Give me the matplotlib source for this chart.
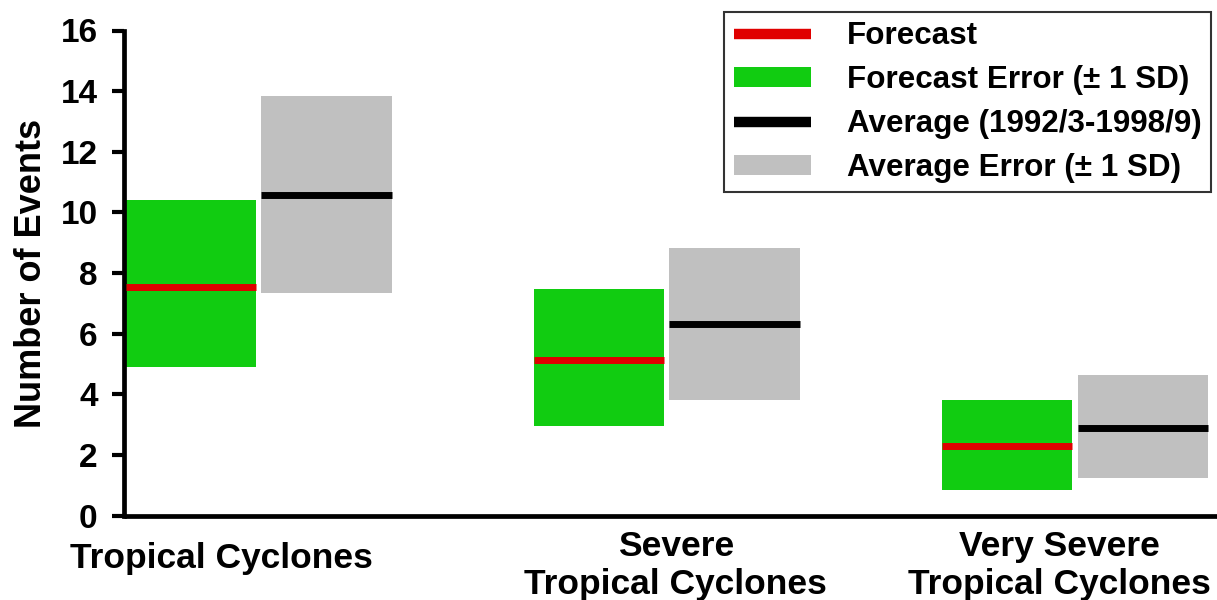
import matplotlib
matplotlib.use("Agg")
import matplotlib.pyplot as plt
from matplotlib.lines import Line2D
from matplotlib.patches import Patch
import numpy as np

categories = ["Tropical Cyclones", "Severe\nTropical Cyclones", "Very Severe\nTropical Cyclones"]
forecast = [7.55, 5.13, 2.28]
forecast_lo = [4.90, 2.95, 0.84]
forecast_hi = [10.40, 7.46, 3.81]
average = [10.58, 6.33, 2.90]
average_lo = [7.33, 3.81, 1.25]
average_hi = [13.84, 8.84, 4.63]
yticks = [0, 2, 4, 6, 8, 10, 12, 14, 16]

# layout: horizontal offset of each category label from its group centre (x units)
label_shift = np.array([-0.091, 0.022, -0.037])
# layout: vertical nudge of each category label (axes fraction)
label_nudge = [0.015, 0.0, 0.0]

plt.rcParams['font.family'] = ['Liberation Sans', 'DejaVu Sans']
plt.rcParams['font.weight'] = 'bold'

GREEN = '#11cc11'
GRAY = '#c0c0c0'
RED = '#e00000'

fig = plt.figure(figsize=(12.17, 6.0), dpi=100)
ax = fig.add_axes([124/1217, 84.5/600, 1 - 124/1217, 485/600])

x = np.arange(len(categories))
w = 0.319
off = 0.166

lo_f = np.array(forecast_lo); hi_f = np.array(forecast_hi)
lo_a = np.array(average_lo); hi_a = np.array(average_hi)
ax.bar(x - off, hi_f - lo_f, bottom=lo_f, width=w, color=GREEN, edgecolor='none', zorder=2)
ax.bar(x + off, hi_a - lo_a, bottom=lo_a, width=w, color=GRAY, edgecolor='none', zorder=2)
ax.hlines(forecast, x - off - w/2, x - off + w/2, colors=RED, linewidth=5, zorder=3)
ax.hlines(average, x + off - w/2, x + off + w/2, colors='black', linewidth=5, zorder=3)

ax.set_xlim(-0.33, 2.348)
ax.set_ylim(0, 16)
ax.set_yticks(yticks)
ax.set_yticklabels([str(v) for v in yticks], fontsize=24, fontweight='bold')
ax.set_xticks(x + label_shift)
ax.set_xticklabels(categories, fontsize=25.5, fontweight='bold', linespacing=1.22)
for lab, dy in zip(ax.get_xticklabels(), label_nudge):
    lab.set_verticalalignment('center')
    lab.set_multialignment('center')
    lab.set_y(dy)
ax.tick_params(axis='x', length=0, pad=36)
ax.tick_params(axis='y', length=9, width=3, direction='out', pad=10)

for s in ['top', 'right']:
    ax.spines[s].set_visible(False)
for s in ['left', 'bottom']:
    ax.spines[s].set_linewidth(3.4)
ax.spines['bottom'].set_capstyle('butt')

ax.set_ylabel("Number of Events", fontsize=26, fontweight='bold', labelpad=8)

handles = [
    Line2D([0], [0], color=RED, linewidth=7.5, solid_capstyle='butt'),
    Patch(facecolor=GREEN, edgecolor='none'),
    Line2D([0], [0], color='black', linewidth=7.5, solid_capstyle='butt'),
    Patch(facecolor=GRAY, edgecolor='none'),
]
labels = ["Forecast", "Forecast Error (\u00b1 1 SD)", "Average (1992/3-1998/9)", "Average Error (\u00b1 1 SD)"]
leg = fig.legend(handles, labels, loc='upper right', bbox_to_anchor=(1211/1217, 1 - 12/600),
                 prop={'size': 22.6, 'weight': 'bold'}, frameon=True, fancybox=False,
                 edgecolor='black', handlelength=2.45, handleheight=0.6, handletextpad=1.15,
                 labelspacing=0.44, borderpad=0.3, borderaxespad=0)
leg.get_frame().set_linewidth(1.5)

fig.savefig("out.png", dpi=100)
